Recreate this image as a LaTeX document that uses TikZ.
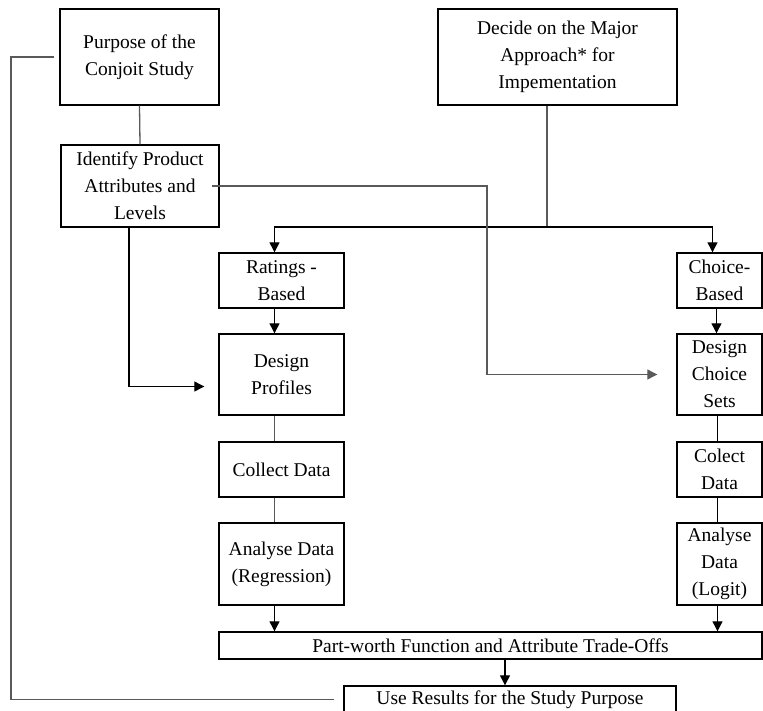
\documentclass[tikz,border=0pt]{standalone}
\usepackage{fontspec}
\setmainfont{Liberation Serif}
\usepackage{tikz}
\usetikzlibrary{arrows.meta}
\newcommand{\stageFont}[0]{\fontsize{19.5}{27}\selectfont}

\begin{document}
\begin{tikzpicture}[x=1pt, y=-1pt]
  \tikzset{stage/.style={draw, line width=1.4pt, align=center, inner sep=1pt, font=\stageFont},
           link/.style={draw=black!65, line width=1.3pt},
           flow/.style={draw=black, line width=1.2pt, -{Triangle[length=10pt,width=10pt]}}}
  \useasboundingbox (0,0) rectangle (763,710);

  % top row
  \node[stage, minimum width=159, minimum height=96] (purpose) at (139.5,57) {Purpose of the\\Conjoit Study};
  \node[stage, minimum width=239, minimum height=96] (decide) at (557.5,57) {Decide on the Major\\Approach* for\\Impementation};
  \node[stage, minimum width=158, minimum height=82] (identify) at (140,186) {Identify Product\\Attributes and\\Levels};

  % ratings-based branch
  \node[stage, minimum width=125, minimum height=55] (ratings) at (281.5,280.5) {Ratings -\\Based};
  \node[stage, minimum width=125, minimum height=81] (profiles) at (281.5,374.5) {Design\\Profiles};
  \node[stage, minimum width=125, minimum height=55] (collectR) at (281.5,469.5) {Collect Data};
  \node[stage, minimum width=125, minimum height=82] (analyseR) at (281.5,564) {Analyse Data\\(Regression)};

  % choice-based branch
  \node[stage, minimum width=85, minimum height=55] (choice) at (719.5,280.5) {Choice-\\Based};
  \node[stage, minimum width=85, minimum height=81] (sets) at (719.5,374.5) {Design\\Choice\\Sets};
  \node[stage, minimum width=85, minimum height=55] (collectC) at (719.5,469.5) {Colect\\Data};
  \node[stage, minimum width=85, minimum height=82] (analyseC) at (719.5,564) {Analyse\\Data\\(Logit)};

  % bottom
  \node[stage, minimum width=543, minimum height=27] (partworth) at (490.5,645.5) {Part-worth Function and Attribute Trade-Offs};
  \node[stage, minimum width=332, minimum height=27] (useres) at (510,699.5) {Use Results for the Study Purpose};

  \coordinate (loop) at (11,0);
  \coordinate (cross) at (487,0);
  \coordinate (branch) at (547,227);

  \draw[link] (purpose.south) -- (identify.north);
  \draw[link, shorten <=9pt, shorten >=5pt] (useres.west) -- (useres.west -| loop) |- (purpose.west);
  \draw[link] (decide.south -| branch) -- (branch);
  \draw[flow] (branch) -| ([xshift=-7pt]ratings.north);
  \draw[flow] (branch) -| ([xshift=-7pt]choice.north);
  \draw[flow, draw=black!65, shorten >=19pt] ([xshift=-8pt]identify.east) -| (cross |- sets.west) -- (sets.west);
  \draw[flow, shorten >=14pt] ([xshift=-11pt]identify.south) |- ([yshift=-12pt]profiles.west);

  \draw[flow] ([xshift=-7pt]ratings.south) -- ([xshift=-7pt]profiles.north);
  \draw[link] ([xshift=-7pt]profiles.south) -- ([xshift=-7pt]collectR.north);
  \draw[link] ([xshift=-7pt]collectR.south) -- ([xshift=-7pt]analyseR.north);
  \draw[flow] ([xshift=-7pt]analyseR.south) -- ([xshift=-7pt]analyseR.south |- partworth.north);

  \draw[flow] ([xshift=-3pt]choice.south) -- ([xshift=-3pt]sets.north);
  \draw[link, draw=black] ([xshift=-2pt]sets.south) -- ([xshift=-2pt]collectC.north);
  \draw[link, draw=black] ([xshift=-2pt]collectC.south) -- ([xshift=-2pt]analyseC.north);
  \draw[flow] ([xshift=-2pt]analyseC.south) -- ([xshift=-2pt]analyseC.south |- partworth.north);

  \draw[flow] ([xshift=-5pt]useres.north |- partworth.south) -- ([xshift=-5pt]useres.north);
\end{tikzpicture}
\end{document}
